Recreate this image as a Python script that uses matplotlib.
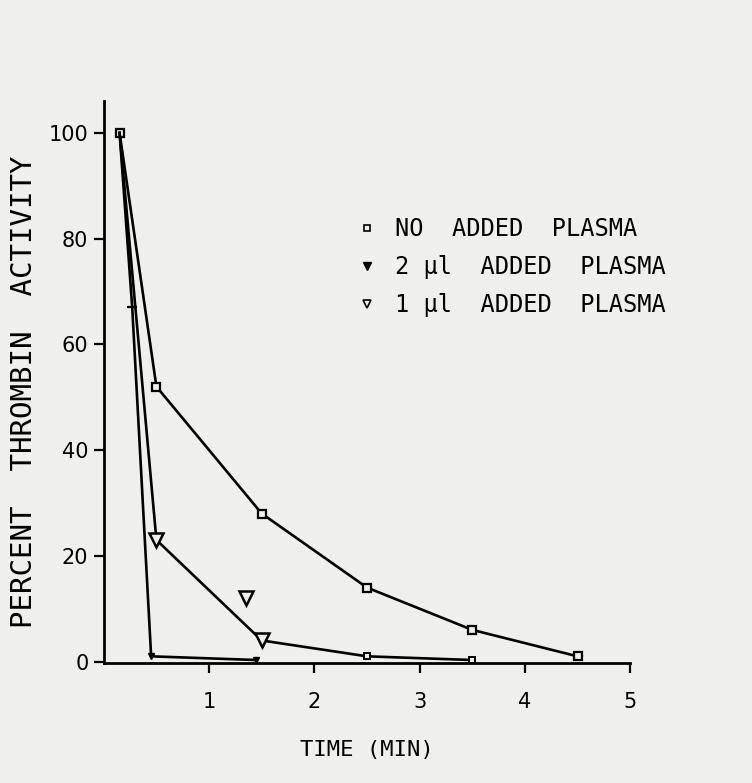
import matplotlib
matplotlib.use("Agg")
import matplotlib.pyplot as plt
from matplotlib.lines import Line2D

time_none = [0.15, 0.5, 1.5, 2.5, 3.5, 4.5]
pct_none = [100, 52, 28, 14, 6, 1]

time_2ul = [0.15, 0.27, 0.45, 1.45]
pct_2ul = [100, 67, 1, 0.3]

time_1ul = [0.15, 0.5, 1.5, 2.5, 3.5]
pct_1ul = [100, 23, 4, 1, 0.3]

outlier_time = [1.35]
outlier_pct = [12]

labels = ["NO  ADDED  PLASMA", "2 \u00b5l  ADDED  PLASMA", "1 \u00b5l  ADDED  PLASMA"]
xticks = [1, 2, 3, 4, 5]
yticks = [0, 20, 40, 60, 80, 100]

bg = "#efefed"
mono = "DejaVu Sans Mono"
plt.rcParams["font.family"] = ["DejaVu Sans"]

fig = plt.figure(figsize=(7.52, 7.83), dpi=100, facecolor=bg)
ax = fig.add_axes([0.138, 0.153, 0.700, 0.718], facecolor=bg)

lw = 1.9
# no added plasma
ax.plot(time_none, pct_none, color="black", lw=lw, marker="s", ms=6,
        mfc=bg, mec="black", mew=1.6)
# 2 ul: steep drop
ax.plot(time_2ul, pct_2ul, color="black", lw=lw, marker="v", ms=5,
        mfc="black", mec="black", markevery=[2, 3])
ax.plot(time_2ul[1:2], pct_2ul[1:2], ls="none", marker="_", ms=7,
        mec="black", mew=1.6)
# 1 ul
ax.plot(time_1ul, pct_1ul, color="black", lw=lw, marker="v", ms=10,
        mfc=bg, mec="black", mew=1.8, markevery=[1, 2])
ax.plot(time_1ul[3:], pct_1ul[3:], ls="none", marker="s", ms=4.5,
        mfc=bg, mec="black", mew=1.4)
ax.plot(outlier_time, outlier_pct, ls="none", marker="v", ms=10,
        mfc=bg, mec="black", mew=1.8)

ax.set_xlim(0, 5)
ax.set_ylim(-0.3, 106)
ax.set_xticks(xticks)
ax.set_yticks(yticks)
ax.tick_params(axis="both", labelsize=15, width=1.6, length=7, direction="out")
ax.tick_params(axis="x", pad=14)
ax.tick_params(axis="y", pad=4)
for s in ["top", "right"]:
    ax.spines[s].set_visible(False)
for s in ["left", "bottom"]:
    ax.spines[s].set_linewidth(2)

ax.set_xlabel("TIME (MIN)", fontsize=16, family=mono, labelpad=20)
ax.set_ylabel("PERCENT  THROMBIN  ACTIVITY", fontsize=21, family=mono)
ax.yaxis.set_label_coords(-0.125, 0.482)

handles = [
    Line2D([], [], ls="none", marker="s", ms=4, mfc=bg, mec="black", mew=1.2),
    Line2D([], [], ls="none", marker="v", ms=6, mfc="black", mec="black"),
    Line2D([], [], ls="none", marker="v", ms=6, mfc=bg, mec="black", mew=1.2),
]
fig.legend(handles, labels, loc="upper left", bbox_to_anchor=(0.447, 0.750),
           frameon=False, handlelength=0.8, handletextpad=0.8,
           labelspacing=0.6, prop={"family": mono, "size": 17})

fig.savefig("out.png", dpi=100, facecolor=bg)
